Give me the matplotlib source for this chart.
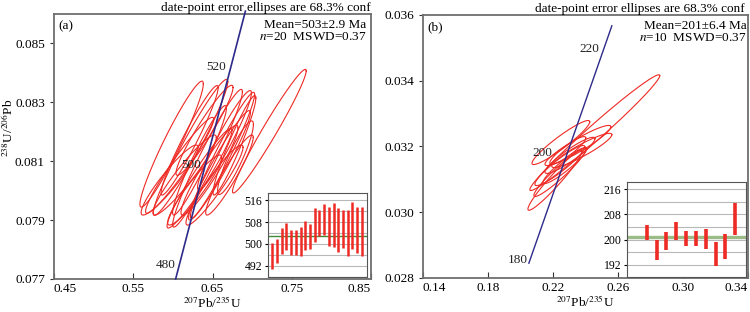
import numpy as np
import matplotlib

matplotlib.use("Agg")
import matplotlib.pyplot as plt

# ---- panel (a) ellipses: centre, half-widths, correlation ----
a_x = [0.7217, 0.5984, 0.6223, 0.6437, 0.6626, 0.6790, 0.6462, 0.6336, 0.6148, 0.6651,
       0.6085, 0.6525, 0.6274, 0.6399, 0.6714, 0.5959, 0.6588, 0.6211, 0.6777, 0.6336]
a_y = [0.08202, 0.08158, 0.08147, 0.08110, 0.08120, 0.08112, 0.08069, 0.08103, 0.08053, 0.08171,
       0.08086, 0.08019, 0.08002, 0.08205, 0.08053, 0.08036, 0.08086, 0.08171, 0.08154, 0.08042]
a_sx = [0.0465, 0.0400, 0.0470, 0.0440, 0.0405, 0.0226, 0.0360, 0.0340, 0.0400, 0.0340,
        0.0430, 0.0360, 0.0340, 0.0360, 0.0300, 0.0360, 0.0390, 0.0360, 0.0270, 0.0410]
a_sy = [0.00210, 0.00214, 0.00231, 0.00234, 0.00214, 0.00125, 0.00153, 0.00186, 0.00136, 0.00169,
        0.00163, 0.00136, 0.00119, 0.00153, 0.00136, 0.00119, 0.00186, 0.00186, 0.00169, 0.00169]
a_rho = [0.975, 0.955, 0.965, 0.965, 0.965, 0.90, 0.94, 0.955, 0.94, 0.95,
         0.96, 0.94, 0.93, 0.95, 0.94, 0.93, 0.96, 0.96, 0.95, 0.96]

# concordia (a): end points and age marks
a_conc_x = [0.6035, 0.6915]
a_conc_y = [0.0770, 0.0861]
a_ages = ["480", "500", "520"]
a_age_x = [0.591, 0.6236, 0.655]
a_age_y = [0.07747, 0.08086, 0.08419]

# inset (a): weighted-mean ages
a_age = [495.7, 497.4, 501.1, 502.6, 500.5, 500.5, 500.8, 503.0, 502.7, 506.9,
         507.7, 508.9, 506.5, 506.8, 505.1, 505.4, 504.0, 506.7, 505.1, 504.6]
a_err = [4.7, 4.5, 4.8, 5.0, 4.5, 4.5, 5.2, 5.2, 4.5, 6.2,
         4.7, 5.5, 7.1, 8.1, 7.9, 7.0, 8.4, 8.5, 8.5, 9.0]
a_mean = 503

# ---- panel (b) ----
b_x = [0.2458, 0.2249, 0.2354, 0.2378, 0.2305, 0.2243, 0.2212, 0.2243, 0.2274, 0.2292]
b_y = [0.03242, 0.03212, 0.03203, 0.03188, 0.03173, 0.03142, 0.03097, 0.03121, 0.03142, 0.03188]
b_sx = [0.0400, 0.0178, 0.0203, 0.0185, 0.0154, 0.0154, 0.0166, 0.0160, 0.0135, 0.0111]
b_sy = [0.00176, 0.00067, 0.00061, 0.00052, 0.00055, 0.00061, 0.00091, 0.00073, 0.00055, 0.00042]
b_rho = [0.985, 0.94, 0.93, 0.92, 0.92, 0.93, 0.96, 0.95, 0.93, 0.90]

b_conc_x = [0.2052, 0.2563]
b_conc_y = [0.02845, 0.03567]
b_ages = ["180", "200", "220"]
b_age_x = [0.1985, 0.2138, 0.2422]
b_age_y = [0.02855, 0.03179, 0.03497]

b_age = [202.25, 196.75, 199.65, 202.65, 200.45, 200.45, 200.25, 195.5, 197.9, 206.5]
b_err = [2.45, 3.25, 2.95, 2.85, 2.45, 2.45, 3.05, 3.9, 4.0, 5.0]
b_mean = 201

RED = "#ee2a24"
NAVY = "#2e2a8a"
SPINE = "#6e6e6e"
FS = 9.5

plt.rcParams.update({
    "font.family": "Liberation Serif",
    "mathtext.fontset": "stix",
    "font.size": FS,
})


def ellipses(ax, xs, ys, sxs, sys_, rhos):
    t = np.linspace(0, 2 * np.pi, 240)
    for cx, cy, sx, sy, r in zip(xs, ys, sxs, sys_, rhos):
        ex = cx + sx * np.cos(t)
        ey = cy + sy * (r * np.cos(t) + np.sqrt(1 - r * r) * np.sin(t))
        ax.plot(ex, ey, color=RED, lw=0.8)


def style_main(ax, xticks, yticks):
    ax.set_xticks(xticks)
    labs = ax.set_xticklabels([f"{v:.2f}" for v in xticks])
    labs[0].set_ha("left")
    labs[-1].set_ha("right")
    ax.set_yticks(yticks)
    ax.set_yticklabels([f"{v:.3f}" for v in yticks])
    for s in ax.spines.values():
        s.set_color(SPINE)
        s.set_linewidth(1.3)
    ax.tick_params(axis="x", direction="in", length=4, color="#333333", labelsize=FS, pad=3)
    ax.tick_params(axis="y", direction="out", length=3, color="#333333", labelsize=FS)


def inset(fig, rect, age, err, mean, ylim, yticks, xlim, bar_lw, mean_color, mean_lw):
    ax = fig.add_axes(rect)
    for s in ax.spines.values():
        s.set_color("#555555")
        s.set_linewidth(0.8)
    for v in np.arange(yticks[0] - 4, ylim[1], 4):
        ax.axhline(v, color="#b8b8b8", lw=0.8, zorder=0)
    ax.axhline(mean, color=mean_color, lw=mean_lw, zorder=1)
    xs = np.arange(1, len(age) + 1)
    ax.vlines(xs, np.array(age) - np.array(err), np.array(age) + np.array(err),
              color=RED, lw=bar_lw, zorder=2)
    ax.set_xlim(*xlim)
    ax.set_ylim(*ylim)
    ax.set_xticks([])
    ax.set_yticks(yticks)
    ax.tick_params(axis="y", direction="out", length=2, labelsize=8.5, pad=2)
    return ax


fig = plt.figure(figsize=(7.5, 3.12), dpi=100)
TITLE = "date-point error ellipses are 68.3% conf"

# ---- (a) ----
ax1 = fig.add_axes([0.072, 0.106, 0.4227, 0.849])
ellipses(ax1, a_x, a_y, a_sx, a_sy, a_rho)
ax1.plot(a_conc_x, a_conc_y, color=NAVY, lw=1.2, clip_on=False, zorder=3)
for lab, x, y in zip(a_ages, a_age_x, a_age_y):
    ax1.text(x, y, lab, ha="center", va="center", fontsize=FS, color="#222222", zorder=4)
ax1.set_xlim(0.45, 0.85)
ax1.set_ylim(0.077, 0.086)
style_main(ax1, [0.45, 0.55, 0.65, 0.75, 0.85], [0.077, 0.079, 0.081, 0.083, 0.085])
ax1.set_xlabel(r"$^{207}$Pb/$^{235}$U", fontsize=FS, labelpad=0)
ax1.set_ylabel(r"$^{238}$U/$^{206}$Pb", fontsize=FS)
ax1.yaxis.set_label_coords(-0.12, 0.57)
ax1.text(0.015, 0.975, "(a)", transform=ax1.transAxes, ha="left", va="top", fontsize=FS)
ax1.text(0.985, 0.98, "Mean=503\u00b12.9 Ma\n$n$=20  MSWD=0.37", transform=ax1.transAxes,
         ha="right", va="top", fontsize=FS, linespacing=0.95)
ax1.text(1.0, 1.012, TITLE, transform=ax1.transAxes,
         ha="right", va="baseline", fontsize=FS)

inset(fig, [0.3573, 0.1122, 0.132, 0.2692], a_age, a_err, a_mean,
      (487.9, 518.6), [492, 500, 508, 516], (0.1, 21.1), 1.8, "#3f8a36", 1.0)

# ---- (b) ----
ax2 = fig.add_axes([0.564, 0.109, 0.433, 0.843])
ellipses(ax2, b_x, b_y, b_sx, b_sy, b_rho)
ax2.plot(b_conc_x, b_conc_y, color=NAVY, lw=1.0, zorder=3)
for lab, x, y in zip(b_ages, b_age_x, b_age_y):
    ax2.text(x, y, lab, ha="center", va="center", fontsize=FS, color="#222222", zorder=4)
ax2.set_xlim(0.14, 0.34)
ax2.set_ylim(0.028, 0.036)
style_main(ax2, [0.14, 0.18, 0.22, 0.26, 0.30, 0.34], [0.028, 0.030, 0.032, 0.034, 0.036])
ax2.set_xlabel(r"$^{207}$Pb/$^{235}$U", fontsize=FS, labelpad=0)
ax2.text(0.015, 0.975, "(b)", transform=ax2.transAxes, ha="left", va="top", fontsize=FS)
ax2.text(0.997, 0.98, "Mean=201\u00b16.4 Ma\n$n$=10  MSWD=0.37", transform=ax2.transAxes,
         ha="right", va="top", fontsize=FS, linespacing=0.95)
ax2.text(0.99, 1.012, TITLE, transform=ax2.transAxes,
         ha="right", va="baseline", fontsize=FS)

inset(fig, [0.836, 0.1122, 0.1587, 0.3045], b_age, b_err, b_mean,
      (188.2, 218.3), [192, 200, 208, 216], (-1.0, 11.1), 2.6, "#9bbb87", 2.4)

fig.savefig("out.png", dpi=100)
